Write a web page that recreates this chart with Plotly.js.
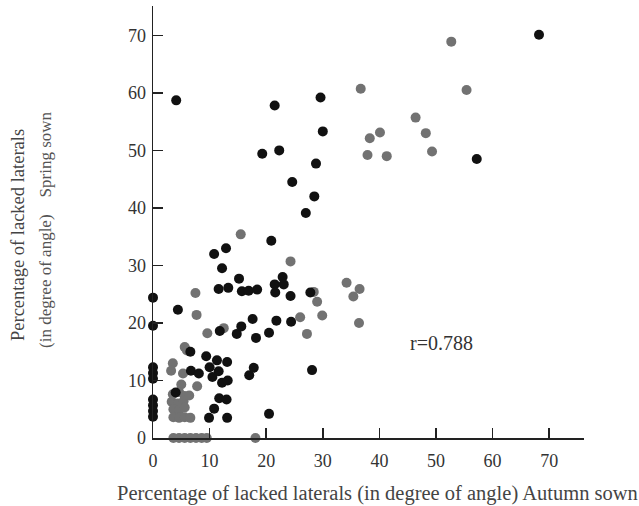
<!DOCTYPE html>
<html>
<head>
<meta charset="utf-8">
<script src="https://cdn.plot.ly/plotly-3.0.1.min.js"></script>
<style>html,body{margin:0;padding:0;background:#fff;}#chart{width:639px;height:506px;}</style>
</head>
<body>
<div id="chart"></div>
<script>
// Black dots
const blackX = [68.2, 57.2, 4.1, 21.5, 29.6, 30.0, 19.3, 22.3, 28.8, 24.6, 28.5, 27.0, 20.9,
  10.8, 12.9, 12.2, 15.2, 11.6, 13.3, 15.7, 16.9, 18.4, 21.5, 22.9, 23.1, 21.6, 24.3, 27.8,
  0, 4.4, 0, 11.8, 14.8, 15.6, 17.6, 18.2, 20.5, 21.8, 24.4, 28.1, 20.5, 17.0, 17.8,
  9.4, 11.3, 13.1, 10.0, 11.6, 10.5, 12.2, 13.2, 11.7, 13.0, 10.8, 9.9, 13.1,
  6.7, 8.1, 6.6, 4.0,
  0, 0, 0, 0, 0, 0, 0];
const blackY = [70.1, 48.5, 58.7, 57.8, 59.2, 53.3, 49.4, 50.0, 47.7, 44.5, 42.0, 39.1, 34.3,
  32.0, 33.0, 29.5, 27.7, 25.9, 26.1, 25.5, 25.6, 25.8, 26.7, 28.0, 26.7, 25.3, 24.7, 25.3,
  24.4, 22.3, 19.5, 18.6, 18.1, 19.4, 20.7, 17.4, 18.3, 20.4, 20.2, 11.8, 4.2, 10.9, 12.2,
  14.2, 13.5, 13.2, 12.3, 11.6, 10.6, 9.6, 10.0, 6.9, 6.7, 5.1, 3.5, 3.5,
  11.7, 11.2, 15.0, 7.9,
  12.3, 11.3, 10.3, 6.7, 5.7, 4.7, 3.7];
// Grey dots
const greyX = [52.7, 36.7, 55.4, 46.4, 40.1, 38.3, 48.2, 37.9, 41.3, 49.3,
  15.5, 24.3, 34.2, 36.5, 35.4, 36.4, 28.4, 29.0, 29.9, 26.0, 27.2,
  7.5, 7.7, 9.6, 12.5, 5.6, 6.0, 3.5, 3.2, 5.3, 5.0, 7.8,
  3.5, 4.6, 5.6, 3.3, 4.4, 5.4, 6.4, 3.6, 4.6, 5.6, 3.6, 4.6, 5.6, 6.6,
  3.6, 4.6, 5.6, 6.6, 7.6, 8.6, 9.5, 18.1];
const greyY = [68.9, 60.7, 60.5, 55.7, 53.1, 52.1, 53.0, 49.2, 49.0, 49.8,
  35.4, 30.7, 27.0, 25.9, 24.6, 20.0, 25.4, 23.7, 21.3, 21.0, 18.1,
  25.2, 21.4, 18.2, 19.1, 15.8, 15.2, 13.0, 11.7, 11.2, 9.3, 9.0,
  7.6, 8.0, 7.3, 6.3, 6.0, 6.4, 7.4, 5.0, 4.8, 5.3, 3.6, 3.5, 3.6, 3.5,
  0, 0, 0, 0, 0, 0, 0, 0];
const tickVals = [0, 10, 20, 30, 40, 50, 60, 70];
const rLabel = "r=0.788";

const serif = "Liberation Serif, Times New Roman, serif";

const traces = [
  {x: greyX, y: greyY, type: 'scatter', mode: 'markers', cliponaxis: false,
   marker: {color: '#727272', size: 10}, hoverinfo: 'x+y'},
  {x: blackX, y: blackY, type: 'scatter', mode: 'markers', cliponaxis: false,
   marker: {color: '#111111', size: 10}, hoverinfo: 'x+y'}
];

const axisCommon = {
  showgrid: false, zeroline: false, showline: true, linecolor: '#222', linewidth: 1.5,
  ticks: 'inside', ticklen: 10, tickwidth: 1.5, tickcolor: '#222',
  tickvals: tickVals, ticktext: tickVals.map(String),
  tickfont: {family: serif, size: 18, color: '#333'}
};

const layout = {
  width: 639, height: 506,
  margin: {l: 153, r: 55, t: 6, b: 68},
  paper_bgcolor: '#fff', plot_bgcolor: '#fff',
  showlegend: false,
  xaxis: Object.assign({}, axisCommon, {range: [0, 76.15], ticklabelstandoff: 6}),
  yaxis: Object.assign({}, axisCommon, {range: [0, 75.1], ticklabelstandoff: 2}),
  annotations: [
    {text: rLabel, x: 50.9, y: 16.5, xref: 'x', yref: 'y', showarrow: false,
     xanchor: 'center', yanchor: 'middle',
     font: {family: serif, size: 20, color: '#333'}},
    {text: 'Percentage of lacked laterals (in degree of angle) Autumn sown',
     x: 377, y: 493, showarrow: false, xanchor: 'center', yanchor: 'middle',
     font: {family: serif, size: 20.5, color: '#444'}},
    {text: 'Percentage of lacked laterals', textangle: -90,
     x: 18, y: 235, showarrow: false, xanchor: 'center', yanchor: 'middle',
     font: {family: serif, size: 18.5, color: '#444'}},
    {text: '(in degree of angle)\u00a0\u00a0\u00a0\u00a0Spring sown', textangle: -90,
     x: 45, y: 230, showarrow: false, xanchor: 'center', yanchor: 'middle',
     font: {family: serif, size: 17, color: '#555'}}
  ]
};
// convert pixel-positioned title annotations to paper coordinates
const plotW = 639 - 153 - 55, plotH = 506 - 6 - 68;
layout.annotations.forEach(a => {
  if (a.xref === undefined) {
    a.xref = 'paper'; a.yref = 'paper';
    a.x = (a.x - 153) / plotW;
    a.y = 1 - (a.y - 6) / plotH;
  }
});

Plotly.newPlot('chart', traces, layout, {displayModeBar: false, staticPlot: true});
</script>
</body>
</html>
